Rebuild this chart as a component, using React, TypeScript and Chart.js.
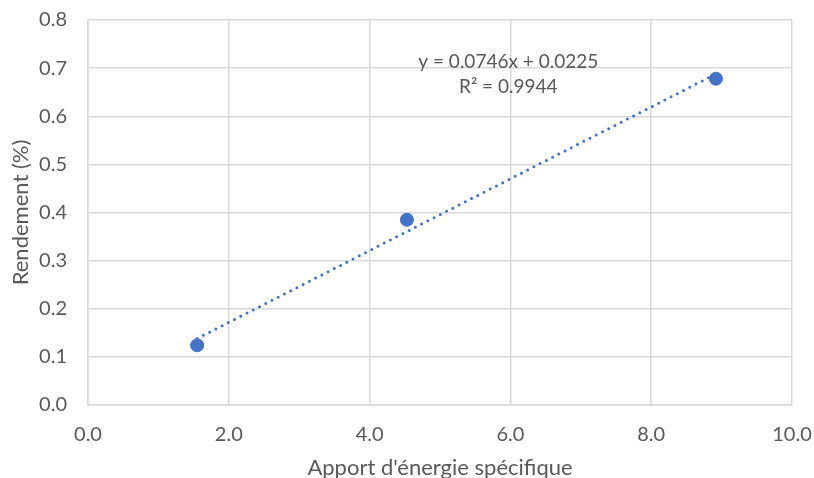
import React, { useEffect, useRef } from "react";
import { Chart, registerables } from "chart.js";

Chart.register(...registerables);

const energie = [1.55, 4.53, 8.92];
const rendement = [0.124, 0.385, 0.678];
const slope = 0.0746;
const intercept = 0.0225;
const equationText = "y = 0.0746x + 0.0225";
const r2Text = "R² = 0.9944";
const xTitle = "Apport d'énergie spécifique";
const yTitle = "Rendement (%)";

const FONT = "Lato, 'Open Sans', sans-serif";
const TEXT_COLOR = "#595959";
const BLUE = "#4472c4";

export default function App() {
  const ref = useRef<HTMLCanvasElement | null>(null);
  useEffect(() => {
    if (!ref.current) return;
    const xMin = energie[0];
    const xMax = energie[energie.length - 1];
    const trend = [
      { x: xMin, y: slope * xMin + intercept },
      { x: xMax, y: slope * xMax + intercept },
    ];
    const annot = {
      id: "annot",
      afterDatasetsDraw(chart: any) {
        const { ctx, scales } = chart;
        const x = scales.x.getPixelForValue(5.97);
        ctx.save();
        ctx.fillStyle = TEXT_COLOR;
        ctx.font = `19px ${FONT}`;
        ctx.textAlign = "center";
        ctx.textBaseline = "middle";
        ctx.fillText(equationText, x, scales.y.getPixelForValue(0.713));
        ctx.fillText(r2Text, x, scales.y.getPixelForValue(0.661));
        ctx.restore();
      },
    };
    const chart = new Chart(ref.current, {
      type: "scatter",
      data: {
        datasets: [
          {
            label: "Rendement",
            data: energie.map((x, i) => ({ x, y: rendement[i] })),
            backgroundColor: BLUE,
            borderColor: BLUE,
            pointRadius: 6.5,
            order: 1,
          },
          {
            label: "Tendance",
            type: "line",
            data: trend,
            borderColor: BLUE,
            borderWidth: 3,
            borderDash: [0, 7],
            borderCapStyle: "round",
            pointRadius: 0,
            fill: false,
            order: 2,
          } as any,
        ],
      },
      plugins: [annot],
      options: {
        responsive: false,
        animation: false,
        layout: { padding: { top: 20, right: 22, left: 0, bottom: 0 } },
        plugins: { legend: { display: false }, tooltip: { enabled: false } },
        scales: {
          x: {
            type: "linear",
            min: 0,
            max: 10,
            ticks: {
              stepSize: 2,
              padding: 18,
              color: TEXT_COLOR,
              font: { family: FONT, size: 20 },
              callback: (v: any) => Number(v).toFixed(1),
            },
            grid: { color: "#d9d9d9", lineWidth: 1.5, drawTicks: false },
            border: { color: "#d9d9d9", width: 1.5 },
            title: {
              display: true,
              text: xTitle,
              color: TEXT_COLOR,
              font: { family: FONT, size: 22 },
              padding: { top: 0, bottom: 9 },
            },
            afterFit: (s: any) => {
              s.height = 85;
              s.paddingLeft = 0;
              s.paddingRight = 0;
            },
          },
          y: {
            type: "linear",
            min: 0,
            max: 0.8,
            ticks: {
              stepSize: 0.1,
              padding: 21,
              color: TEXT_COLOR,
              font: { family: FONT, size: 20 },
              callback: (v: any) => Number(v).toFixed(1),
            },
            grid: { color: "#d9d9d9", lineWidth: 1.5, drawTicks: false },
            border: { color: "#d9d9d9", width: 1.5 },
            title: {
              display: true,
              text: yTitle,
              color: TEXT_COLOR,
              font: { family: FONT, size: 22 },
              padding: { top: 8, bottom: 0 },
            },
            afterFit: (s: any) => {
              s.width = 88;
              s.paddingTop = 0;
              s.paddingBottom = 0;
            },
          },
        },
      },
    });
    return () => chart.destroy();
  }, []);
  return (
    <div style={{ position: "fixed", left: 0, top: 0, width: 814, height: 478, overflow: "hidden", background: "#fff" }}>
      <canvas ref={ref} width={814} height={490} style={{ display: "block" }} />
    </div>
  );
}
